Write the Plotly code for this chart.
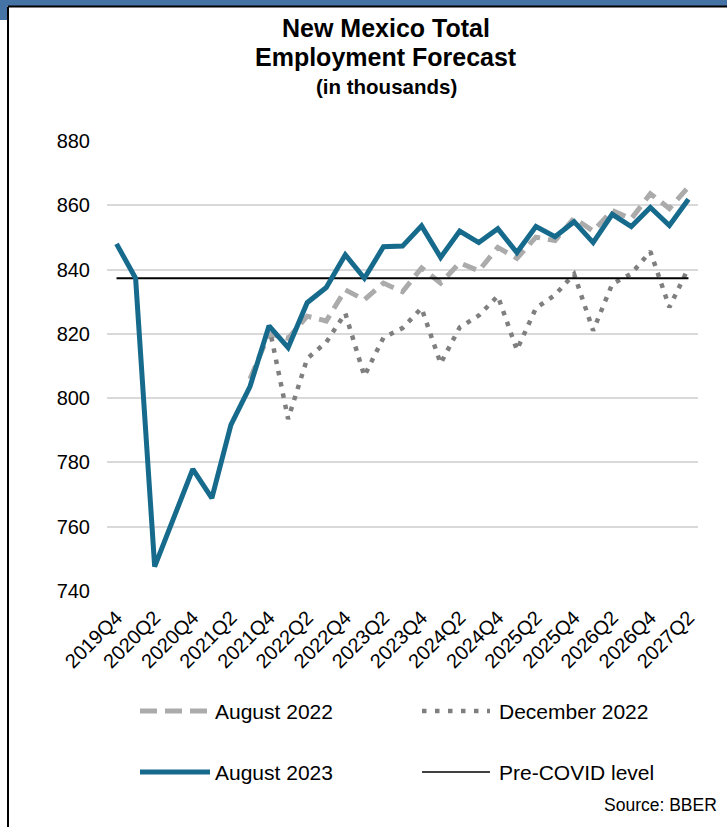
import plotly.graph_objects as go

# ---------------- data ----------------
quarters = ["2019Q4", "2020Q1", "2020Q2", "2020Q3", "2020Q4", "2021Q1", "2021Q2",
            "2021Q3", "2021Q4", "2022Q1", "2022Q2", "2022Q3", "2022Q4", "2023Q1",
            "2023Q2", "2023Q3", "2023Q4", "2024Q1", "2024Q2", "2024Q3", "2024Q4",
            "2025Q1", "2025Q2", "2025Q3", "2025Q4", "2026Q1", "2026Q2", "2026Q3",
            "2026Q4", "2027Q1", "2027Q2"]

aug_2023 = [848.0, 837.3, 747.6, 762.7, 777.9, 768.9, 791.7, 803.6, 822.5, 815.7,
            829.7, 834.4, 844.6, 837.3, 847.1, 847.3, 853.6, 843.8, 852.0, 848.4,
            852.7, 845.3, 853.4, 850.2, 854.9, 848.4, 857.2, 853.4, 859.3, 853.7,
            861.9]

aug_2022 = [None, None, None, None, None, None, None, 806.0, 820.0, 818.6,
            825.5, 824.0, 833.7, 830.6, 835.8, 833.1, 840.5, 835.8, 842.1, 839.6,
            846.9, 843.5, 850.1, 849.0, 856.0, 852.0, 858.4, 855.8, 863.6, 859.0,
            865.7]

dec_2022 = [None, None, None, None, None, None, None, None, 822.5, 793.5,
            812.3, 817.4, 826.4, 806.9, 818.8, 821.8, 828.0, 810.8, 822.0, 825.7,
            831.8, 815.0, 828.0, 832.1, 838.6, 821.0, 835.5, 838.7, 845.6, 828.3,
            840.5]

pre_covid_level = 837.3

y_ticks = [740, 760, 780, 800, 820, 840, 860, 880]
x_tick_labels = quarters[::2]

series_names = ["August 2022", "December 2022", "August 2023", "Pre-COVID level"]

# ---------------- styles ----------------
FONT = "Arial, Liberation Sans, sans-serif"
TEAL = "#166a8c"
LIGHT_GRAY = "#ababab"
DOT_GRAY = "#7f7f7f"

W, H = 727, 827
ML, MR, MT, MB = 107, 29, 141, 236
PW = W - ML - MR
PH = H - MT - MB


def px2x(px):
    return (px - ML) / PW


def py2y(py):
    return (H - MB - py) / PH


fig = go.Figure()

fig.add_trace(go.Scatter(x=quarters, y=aug_2022, mode="lines", name=series_names[0],
                         line=dict(color=LIGHT_GRAY, width=5, dash="14px,8px"),
                         connectgaps=False))
fig.add_trace(go.Scatter(x=quarters, y=dec_2022, mode="lines", name=series_names[1],
                         line=dict(color=DOT_GRAY, width=4.5, dash="4.5px,7px"),
                         connectgaps=False))
fig.add_trace(go.Scatter(x=[quarters[0], quarters[-1]],
                         y=[pre_covid_level, pre_covid_level], mode="lines",
                         name=series_names[3], line=dict(color="black", width=2)))
fig.add_trace(go.Scatter(x=quarters, y=aug_2023, mode="lines", name=series_names[2],
                         line=dict(color=TEAL, width=5)))

shapes = []
# frame: blue strip on top / left, black border
shapes.append(dict(type="rect", xref="paper", yref="paper",
                   x0=px2x(0), x1=px2x(W), y0=py2y(6), y1=py2y(0),
                   fillcolor="#4673a6", line=dict(width=0), layer="above"))
shapes.append(dict(type="rect", xref="paper", yref="paper",
                   x0=px2x(0), x1=px2x(7), y0=py2y(20), y1=py2y(0),
                   fillcolor="#4673a6", line=dict(width=0), layer="above"))
shapes.append(dict(type="line", xref="paper", yref="paper",
                   x0=px2x(8), x1=px2x(W), y0=py2y(6.5), y1=py2y(6.5),
                   line=dict(color="black", width=2), layer="above"))
shapes.append(dict(type="line", xref="paper", yref="paper",
                   x0=px2x(8), x1=px2x(8), y0=py2y(6.5), y1=py2y(H),
                   line=dict(color="black", width=2), layer="above"))

# manual legend (2 x 2)
row1, row2 = 711, 772
col1_x0, col1_x1 = 140, 207
col2_x0, col2_x1 = 422, 490
shapes.append(dict(type="line", xref="paper", yref="paper",
                   x0=px2x(col1_x0), x1=px2x(col1_x1), y0=py2y(row1), y1=py2y(row1),
                   line=dict(color=LIGHT_GRAY, width=5, dash="17px,8px")))
shapes.append(dict(type="line", xref="paper", yref="paper",
                   x0=px2x(col2_x0), x1=px2x(col2_x1), y0=py2y(row1), y1=py2y(row1),
                   line=dict(color=DOT_GRAY, width=4.5, dash="4.5px,8.5px")))
shapes.append(dict(type="line", xref="paper", yref="paper",
                   x0=px2x(col1_x0), x1=px2x(210), y0=py2y(row2), y1=py2y(row2),
                   line=dict(color=TEAL, width=5)))
shapes.append(dict(type="line", xref="paper", yref="paper",
                   x0=px2x(col2_x0), x1=px2x(col2_x1), y0=py2y(row2), y1=py2y(row2),
                   line=dict(color="black", width=1.5)))

annotations = []
legend_text = [(series_names[0], 213, row1), (series_names[1], 497, row1),
               (series_names[2], 213, row2), (series_names[3], 497, row2)]
for txt, px, py in legend_text:
    annotations.append(dict(text=txt, xref="paper", yref="paper", x=px2x(px), y=py2y(py),
                            xanchor="left", yanchor="middle", showarrow=False,
                            font=dict(family=FONT, size=21, color="black")))

title_cx = 386
annotations.append(dict(text="<b>New Mexico Total</b>", xref="paper", yref="paper",
                        x=px2x(title_cx), y=py2y(28), xanchor="center", yanchor="middle",
                        showarrow=False, font=dict(family=FONT, size=25, color="black")))
annotations.append(dict(text="<b>Employment Forecast</b>", xref="paper", yref="paper",
                        x=px2x(title_cx), y=py2y(57), xanchor="center", yanchor="middle",
                        showarrow=False, font=dict(family=FONT, size=25, color="black")))
annotations.append(dict(text="<b>(in thousands)</b>", xref="paper", yref="paper",
                        x=px2x(title_cx), y=py2y(86), xanchor="center", yanchor="middle",
                        showarrow=False, font=dict(family=FONT, size=20.5, color="black")))
annotations.append(dict(text="Source: BBER", xref="paper", yref="paper",
                        x=px2x(719), y=py2y(805), xanchor="right", yanchor="middle",
                        showarrow=False, font=dict(family=FONT, size=17.5, color="black")))

fig.update_layout(
    width=W, height=H, autosize=False,
    margin=dict(l=ML, r=MR, t=MT, b=MB, pad=0),
    paper_bgcolor="white", plot_bgcolor="white",
    showlegend=False,
    shapes=shapes, annotations=annotations,
    font=dict(family=FONT, color="black"),
    xaxis=dict(type="category", categoryorder="array", categoryarray=quarters,
               range=[-0.5, len(quarters) - 0.5], tickmode="array",
               tickvals=x_tick_labels, ticktext=x_tick_labels, tickangle=-45,
               tickfont=dict(family=FONT, size=20, color="black"),
               showgrid=False, showline=False, zeroline=False, ticks="",
               ticklabelstandoff=10),
    yaxis=dict(range=[740, 880], tickmode="array", tickvals=y_ticks,
               tickfont=dict(family=FONT, size=20, color="black"),
               showgrid=True, gridcolor="#d9d9d9", gridwidth=1.5,
               showline=False, zeroline=False, ticks="", ticklabelstandoff=16),
)

fig.write_html("out.html")
